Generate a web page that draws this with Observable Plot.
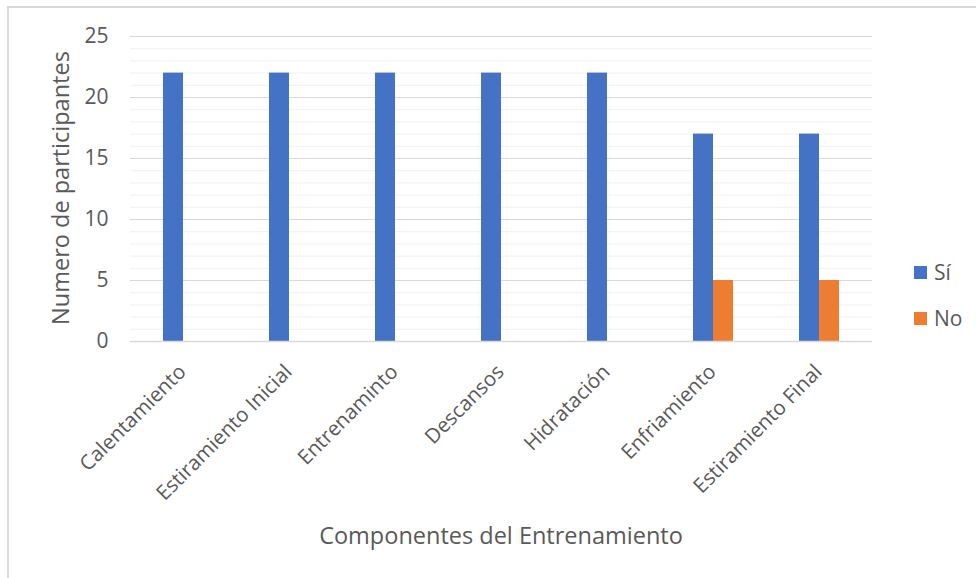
<!DOCTYPE html>
<html>
<head>
<meta charset="utf-8">
<script src="https://cdn.jsdelivr.net/npm/d3@7"></script>
<script src="https://cdn.jsdelivr.net/npm/@observablehq/plot@0.6"></script>
<style>
  html, body { margin: 0; padding: 0; background: #fff; }
  #wrap { position: relative; width: 976px; height: 578px; overflow: hidden; background: #fff; font-family: "Open Sans", sans-serif; color: #595959; }
  #border { position: absolute; left: 7px; top: 6px; width: 990px; height: 600px; border: 2px solid #d9d9d9; box-sizing: border-box; }
  #chart { position: absolute; left: 0; top: 0; }
  .ytitle { position: absolute; left: 60px; top: 188px; transform: translate(-50%, -50%) rotate(-90deg); white-space: nowrap; font-size: 23.5px; }
  .xtitle { position: absolute; left: 501px; top: 535px; transform: translate(-50%, -50%); white-space: nowrap; font-size: 23.5px; }
  .legend { position: absolute; left: 914px; top: 258px; font-size: 21px; }
  .legend div { display: flex; align-items: center; height: 28px; margin-bottom: 18px; }
  .legend span.sw { display: inline-block; width: 13px; height: 13px; margin-right: 7px; }
</style>
</head>
<body>
<div id="wrap">
  <div id="border"></div>
  <div id="chart"></div>
  <div class="ytitle">Numero de participantes</div>
  <div class="xtitle">Componentes del Entrenamiento</div>
  <div class="legend" id="legend"></div>
</div>
<script>
const categories = ["Calentamiento", "Estiramiento Inicial", "Entrenaminto", "Descansos", "Hidratación", "Enfriamiento", "Estiramiento Final"];
const series = ["Sí", "No"];
const siValues = [22, 22, 22, 22, 22, 17, 17];
const noValues = [0, 0, 0, 0, 0, 5, 5];
const yTicks = [0, 5, 10, 15, 20, 25];
const colors = ["#4472C4", "#ED7D31"];

const data = categories.flatMap((c, i) => [
  {cat: c, serie: "Sí", value: siValues[i]},
  {cat: c, serie: "No", value: noValues[i]}
]);

const minor = d3.range(1, 25).filter(v => v % 5 !== 0);

const chart = Plot.plot({
  width: 976,
  height: 578,
  marginLeft: 129,
  marginRight: 103,
  marginTop: 36,
  marginBottom: 237,
  style: {fontFamily: "Open Sans", fontSize: "20.5px", color: "#595959", background: "transparent"},
  fx: {domain: categories, padding: 0},
  x: {domain: series, paddingInner: 0, paddingOuter: 1.53, axis: null},
  y: {domain: [0, 25]},
  color: {domain: series, range: colors},
  marks: [
    Plot.ruleY(minor, {stroke: "#f0f0f0", strokeWidth: 1}),
    Plot.ruleY(yTicks.filter(v => v > 0), {stroke: "#d9d9d9", strokeWidth: 1}),
    Plot.barY(data.filter(d => d.value > 0), {fx: "cat", x: "serie", y: "value", fill: "serie"}),
    Plot.ruleY([0], {stroke: "#d9d9d9", strokeWidth: 1.5}),
    Plot.axisY({ticks: yTicks, tickSize: 0, tickPadding: 22, label: null, fill: "#595959", fontSize: 21}),
    Plot.axisFx({anchor: "bottom", tickSize: 0, tickPadding: 27, tickRotate: -45, label: null, fill: "#595959", dx: -1})
  ]
});
document.getElementById("chart").appendChild(chart);

const legend = document.getElementById("legend");
series.forEach((s, i) => {
  const row = document.createElement("div");
  const sw = document.createElement("span");
  sw.className = "sw";
  sw.style.background = colors[i];
  row.appendChild(sw);
  row.appendChild(document.createTextNode(s));
  legend.appendChild(row);
});
</script>
</body>
</html>
